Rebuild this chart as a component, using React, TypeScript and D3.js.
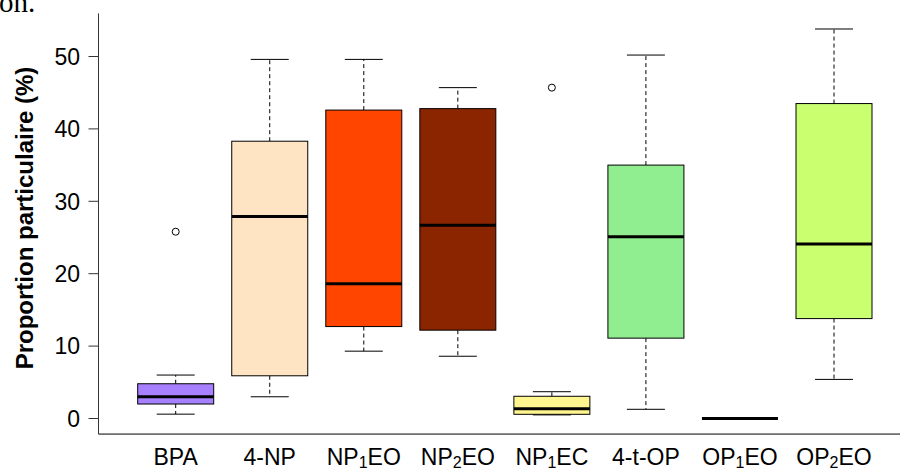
import React from "react";
import * as d3 from "d3";

const categories: string[][] = [
  ["BPA"],
  ["4-NP"],
  ["NP", "1", "EO"],
  ["NP", "2", "EO"],
  ["NP", "1", "EC"],
  ["4-t-OP"],
  ["OP", "1", "EO"],
  ["OP", "2", "EO"],
];
const lowerWhisker = [0.6, 3.0, 9.3, 8.6, 0.5, 1.27, 0, 5.4];
const q1 = [2.0, 5.9, 12.7, 12.2, 0.58, 11.1, 0, 13.8];
const median = [3.0, 27.9, 18.6, 26.7, 1.35, 25.1, 0, 24.1];
const q3 = [4.8, 38.3, 42.6, 42.8, 3.07, 35.0, 0, 43.5];
const upperWhisker = [6.0, 49.6, 49.6, 45.7, 3.7, 50.2, 0, 53.8];
const outliers: number[][] = [[25.8], [], [], [], [45.7], [], [], []];
const fills = ["#A680FF", "#FFE4C4", "#FF4500", "#8B2500", "#FFF68F", "#90EE90", "#FFFFFF", "#CAFF70"];
const yTicks = [0, 10, 20, 30, 40, 50];
const yLabel = "Proportion particulaire (%)";

export default function App() {
  const y = d3.scaleLinear().domain([0, 50]).range([418.5, 56.5]);
  const x = d3.scaleLinear().domain([1, 8]).range([175.7, 834]);
  const half = 38;
  const cap = 19;
  const yMin = -2.15;
  const yMax = 55.95;
  const axisX = 98.5;
  const font = "Liberation Sans, Arial, sans-serif";

  return (
    <svg width={900} height={468} style={{ position: "absolute", left: 0, top: 0 }}>
      <rect width={900} height={468} fill="#fff" />
      <text x={-1} y={12} fontFamily="Liberation Serif, Times New Roman, serif" fontSize={29} fill="#000">on.</text>
      {/* axes */}
      <line x1={axisX} x2={axisX} y1={y(yMax)} y2={y(yMin)} stroke="#333" strokeWidth={1} />
      <line x1={axisX} x2={900} y1={y(yMin)} y2={y(yMin)} stroke="#000" strokeWidth={1} />
      {yTicks.map((t) => (
        <g key={t}>
          <line x1={axisX - 10} x2={axisX} y1={y(t)} y2={y(t)} stroke="#333" />
          <text x={80} y={y(t)} dy="0.36em" textAnchor="end" fontFamily={font} fontSize={23} fill="#000">{t}</text>
        </g>
      ))}
      <text transform={`translate(33,218) rotate(-90)`} textAnchor="middle" fontFamily={font} fontWeight="bold" fontSize={24} fill="#000">{yLabel}</text>
      {categories.map((parts, i) => {
        const cx = x(i + 1);
        const allZero = q1[i] === q3[i];
        return (
          <g key={i}>
            {!allZero && (
              <>
                <line x1={cx} x2={cx} y1={y(q3[i])} y2={y(upperWhisker[i])} stroke="#000" strokeDasharray="4,3" />
                <line x1={cx} x2={cx} y1={y(q1[i])} y2={y(lowerWhisker[i])} stroke="#000" strokeDasharray="4,3" />
                <line x1={cx - cap} x2={cx + cap} y1={y(upperWhisker[i])} y2={y(upperWhisker[i])} stroke="#000" />
                <line x1={cx - cap} x2={cx + cap} y1={y(lowerWhisker[i])} y2={y(lowerWhisker[i])} stroke="#000" />
                <rect x={cx - half} width={half * 2} y={y(q3[i])} height={y(q1[i]) - y(q3[i])} fill={fills[i]} stroke="#000" strokeWidth={1} />
              </>
            )}
            <line x1={cx - half} x2={cx + half} y1={y(median[i])} y2={y(median[i])} stroke="#000" strokeWidth={3} />
            {outliers[i].map((o, j) => (
              <circle key={j} cx={cx} cy={y(o)} r={3.5} fill="none" stroke="#000" strokeWidth={1} />
            ))}
            <text x={cx} y={465} textAnchor="middle" fontFamily={font} fontSize={23} fill="#000">
              {parts[0]}
              {parts.length > 1 && <tspan fontSize={16} dy={3}>{parts[1]}</tspan>}
              {parts.length > 2 && <tspan dy={-3}>{parts[2]}</tspan>}
            </text>
          </g>
        );
      })}
    </svg>
  );
}
